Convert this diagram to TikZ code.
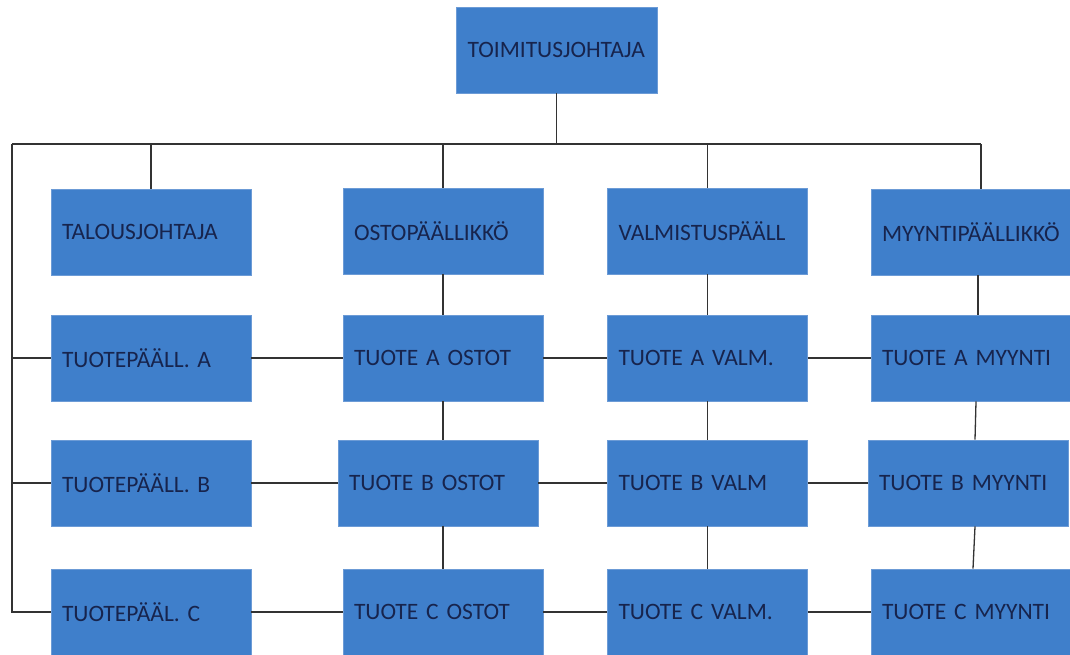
\documentclass[tikz,border=0pt]{standalone}
\usepackage{fontspec}
\setsansfont{Carlito}
\usetikzlibrary{positioning, calc}
\definecolor{cbox}{HTML}{3F7FCB}
\definecolor{cedge}{HTML}{6C9BD6}
\definecolor{ctext}{HTML}{17244D}
\definecolor{cline}{HTML}{333333}
\tikzset{
  every picture/.style={font=\sffamily, line width=1.3pt},
  box/.style={fill=cbox, draw=cedge, line width=0.8pt, text=ctext, align=left,
    text width=178pt, inner xsep=11pt, minimum width=200pt, minimum height=86pt,
    font=\sffamily\fontsize{23.5}{26}\selectfont},
  link/.style={draw=cline, line width=1.3pt},
}
\begin{document}
\begin{tikzpicture}[x=1pt, y=-1pt]
  \useasboundingbox (0,0) rectangle (1070,654);
  \node[box, minimum width=201pt] (ceo) at (556.5,50) {TOIMITUSJOHTAJA};
  % managers
  \node[box] (talous) at (151,232) {TALOUSJOHTAJA};
  \node[box] (osto) at (443,231) {OSTOPÄÄLLIKKÖ};
  \node[box] (valm) at (707.5,231) {VALMISTUSPÄÄLL};
  \node[box] (myynti) at (971,232) {MYYNTIPÄÄLLIKKÖ};
  % product A
  \node[box] (tpA) at (151,358) {TUOTEPÄÄLL. A};
  \node[box] (ostoA) at (443,358) {TUOTE A OSTOT};
  \node[box] (valmA) at (707.5,358) {TUOTE A VALM.};
  \node[box] (myyntiA) at (971,358) {TUOTE A MYYNTI};
  % product B
  \node[box] (tpB) at (151,483) {TUOTEPÄÄLL. B};
  \node[box] (ostoB) at (438,483) {TUOTE B OSTOT};
  \node[box] (valmB) at (707.5,483) {TUOTE B VALM};
  \node[box] (myyntiB) at (968,483) {TUOTE B MYYNTI};
  % product C
  \node[box] (tpC) at (151,612) {TUOTEPÄÄL. C};
  \node[box] (ostoC) at (443,612) {TUOTE C OSTOT};
  \node[box] (valmC) at (707.5,612) {TUOTE C VALM.};
  \node[box] (myyntiC) at (971,612) {TUOTE C MYYNTI};

  \coordinate (busL) at (12,144);
  \coordinate (busR) at (981,144);
  \draw[link] (ceo.south) -- (ceo.south |- busL);
  \draw[link] (busL) -- (busR);
  \draw[link] (busL) |- (tpC.west);
  \draw[link] (busL |- tpA.west) -- (tpA.west);
  \draw[link] (busL |- tpB.west) -- (tpB.west);
  \draw[link] (busL -| talous.north) -- (talous.north);
  \draw[link] (busL -| osto.north) -- (osto.north);
  \draw[link] (busL -| valm.north) -- (valm.north);
  \draw[link] (busR) -- (busR |- myynti.north);
  % columns
  \draw[link] (osto.south) -- (ostoA.north);
  \draw[link] (ostoA.south) -- (ostoA.south |- ostoB.north);
  \draw[link] (ostoA.south |- ostoB.south) -- (ostoC.north);
  \draw[link] (valm.south) -- (valmA.north);
  \draw[link] (valmA.south) -- (valmB.north);
  \draw[link] (valmB.south) -- (valmC.north);
  \draw[link] ([xshift=7pt]myynti.south) -- ([xshift=7pt]myyntiA.north);
  \draw[link] ([xshift=5pt]myyntiA.south) -- ([xshift=7pt]myyntiB.north);
  \draw[link] ([xshift=7pt]myyntiB.south) -- ([xshift=2pt]myyntiC.north);
  % rows
  \draw[link] (tpA.east) -- (ostoA.west);
  \draw[link] (ostoA.east) -- (valmA.west);
  \draw[link] (valmA.east) -- (myyntiA.west);
  \draw[link] (tpB.east) -- (ostoB.west);
  \draw[link] (ostoB.east) -- (valmB.west);
  \draw[link] (valmB.east) -- (myyntiB.west);
  \draw[link] (tpC.east) -- (ostoC.west);
  \draw[link] (ostoC.east) -- (valmC.west);
  \draw[link] (valmC.east) -- (myyntiC.west);
\end{tikzpicture}
\end{document}
